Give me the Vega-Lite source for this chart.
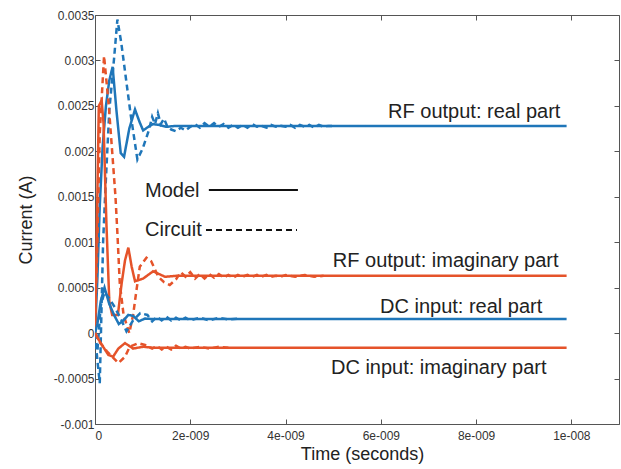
{
  "$schema": "https://vega.github.io/schema/vega-lite/v6.json",
  "width": 524,
  "height": 409,
  "autosize": {"type": "none"},
  "padding": {"left": 95, "top": 15, "right": 2, "bottom": 45},
  "background": "white",
  "config": {
    "view": {"stroke": "#555", "strokeWidth": 1},
    "axis": {
      "labelFont": "Liberation Sans",
      "labelFontSize": 12,
      "labelColor": "#333",
      "titleFont": "Liberation Sans",
      "titleFontSize": 18,
      "titleFontWeight": "normal",
      "titleColor": "#222",
      "tickColor": "#555",
      "tickWidth": 1,
      "domain": false,
      "grid": false
    },
    "text": {"font": "Liberation Sans", "fontSize": 20, "fill": "#222"}
  },
  "datasets": {
    "series": [
      {"series":"RFr_M","col":"blue","kind":"Model","t":0,"v":0},
      {"series":"RFr_M","col":"blue","kind":"Model","t":0.05e-9,"v":0.6e-3},
      {"series":"RFr_M","col":"blue","kind":"Model","t":0.1e-9,"v":1.4e-3},
      {"series":"RFr_M","col":"blue","kind":"Model","t":0.16e-9,"v":2.05e-3},
      {"series":"RFr_M","col":"blue","kind":"Model","t":0.23e-9,"v":2.5e-3},
      {"series":"RFr_M","col":"blue","kind":"Model","t":0.3e-9,"v":2.78e-3},
      {"series":"RFr_M","col":"blue","kind":"Model","t":0.37e-9,"v":2.93e-3},
      {"series":"RFr_M","col":"blue","kind":"Model","t":0.45e-9,"v":2.45e-3},
      {"series":"RFr_M","col":"blue","kind":"Model","t":0.54e-9,"v":1.98e-3},
      {"series":"RFr_M","col":"blue","kind":"Model","t":0.61e-9,"v":1.94e-3},
      {"series":"RFr_M","col":"blue","kind":"Model","t":0.72e-9,"v":2.25e-3},
      {"series":"RFr_M","col":"blue","kind":"Model","t":0.84e-9,"v":2.46e-3},
      {"series":"RFr_M","col":"blue","kind":"Model","t":0.93e-9,"v":2.33e-3},
      {"series":"RFr_M","col":"blue","kind":"Model","t":1.01e-9,"v":2.23e-3},
      {"series":"RFr_M","col":"blue","kind":"Model","t":1.12e-9,"v":2.27e-3},
      {"series":"RFr_M","col":"blue","kind":"Model","t":1.22e-9,"v":2.3e-3},
      {"series":"RFr_M","col":"blue","kind":"Model","t":1.35e-9,"v":2.29e-3},
      {"series":"RFr_M","col":"blue","kind":"Model","t":1.5e-9,"v":2.27e-3},
      {"series":"RFr_M","col":"blue","kind":"Model","t":1.7e-9,"v":2.28e-3},
      {"series":"RFr_M","col":"blue","kind":"Model","t":9.9e-9,"v":2.28e-3},

      {"series":"RFr_C","col":"blue","kind":"Circuit","t":0,"v":0},
      {"series":"RFr_C","col":"blue","kind":"Circuit","t":0.05e-9,"v":-0.3e-3},
      {"series":"RFr_C","col":"blue","kind":"Circuit","t":0.1e-9,"v":-0.55e-3},
      {"series":"RFr_C","col":"blue","kind":"Circuit","t":0.17e-9,"v":1.0e-3},
      {"series":"RFr_C","col":"blue","kind":"Circuit","t":0.22e-9,"v":1.6e-3},
      {"series":"RFr_C","col":"blue","kind":"Circuit","t":0.3e-9,"v":2.45e-3},
      {"series":"RFr_C","col":"blue","kind":"Circuit","t":0.4e-9,"v":3.02e-3},
      {"series":"RFr_C","col":"blue","kind":"Circuit","t":0.47e-9,"v":3.45e-3},
      {"series":"RFr_C","col":"blue","kind":"Circuit","t":0.55e-9,"v":3.2e-3},
      {"series":"RFr_C","col":"blue","kind":"Circuit","t":0.64e-9,"v":2.84e-3},
      {"series":"RFr_C","col":"blue","kind":"Circuit","t":0.75e-9,"v":2.4e-3},
      {"series":"RFr_C","col":"blue","kind":"Circuit","t":0.89e-9,"v":1.91e-3},
      {"series":"RFr_C","col":"blue","kind":"Circuit","t":1.0e-9,"v":2.03e-3},
      {"series":"RFr_C","col":"blue","kind":"Circuit","t":1.13e-9,"v":2.23e-3},
      {"series":"RFr_C","col":"blue","kind":"Circuit","t":1.2e-9,"v":2.38e-3},
      {"series":"RFr_C","col":"blue","kind":"Circuit","t":1.26e-9,"v":2.3e-3},
      {"series":"RFr_C","col":"blue","kind":"Circuit","t":1.32e-9,"v":2.42e-3},
      {"series":"RFr_C","col":"blue","kind":"Circuit","t":1.38e-9,"v":2.3e-3},
      {"series":"RFr_C","col":"blue","kind":"Circuit","t":1.45e-9,"v":2.36e-3},
      {"series":"RFr_C","col":"blue","kind":"Circuit","t":1.52e-9,"v":2.27e-3},
      {"series":"RFr_C","col":"blue","kind":"Circuit","t":1.6e-9,"v":2.24e-3},
      {"series":"RFr_C","col":"blue","kind":"Circuit","t":1.7e-9,"v":2.22e-3},
      {"series":"RFr_C","col":"blue","kind":"Circuit","t":1.8e-9,"v":2.26e-3},
      {"series":"RFr_C","col":"blue","kind":"Circuit","t":1.9e-9,"v":2.23e-3},
      {"series":"RFr_C","col":"blue","kind":"Circuit","t":2.0e-9,"v":2.27e-3},
      {"series":"RFr_C","col":"blue","kind":"Circuit","t":2.1e-9,"v":2.3e-3},
      {"series":"RFr_C","col":"blue","kind":"Circuit","t":2.2e-9,"v":2.26e-3},
      {"series":"RFr_C","col":"blue","kind":"Circuit","t":2.3e-9,"v":2.31e-3},
      {"series":"RFr_C","col":"blue","kind":"Circuit","t":2.4e-9,"v":2.27e-3},
      {"series":"RFr_C","col":"blue","kind":"Circuit","t":2.5e-9,"v":2.31e-3},
      {"series":"RFr_C","col":"blue","kind":"Circuit","t":2.6e-9,"v":2.27e-3},
      {"series":"RFr_C","col":"blue","kind":"Circuit","t":2.7e-9,"v":2.3e-3},
      {"series":"RFr_C","col":"blue","kind":"Circuit","t":2.8e-9,"v":2.26e-3},
      {"series":"RFr_C","col":"blue","kind":"Circuit","t":2.9e-9,"v":2.29e-3},
      {"series":"RFr_C","col":"blue","kind":"Circuit","t":3.0e-9,"v":2.26e-3},
      {"series":"RFr_C","col":"blue","kind":"Circuit","t":3.1e-9,"v":2.29e-3},
      {"series":"RFr_C","col":"blue","kind":"Circuit","t":3.2e-9,"v":2.26e-3},
      {"series":"RFr_C","col":"blue","kind":"Circuit","t":3.3e-9,"v":2.3e-3},
      {"series":"RFr_C","col":"blue","kind":"Circuit","t":3.4e-9,"v":2.27e-3},
      {"series":"RFr_C","col":"blue","kind":"Circuit","t":3.5e-9,"v":2.28e-3},
      {"series":"RFr_C","col":"blue","kind":"Circuit","t":3.6e-9,"v":2.26e-3},
      {"series":"RFr_C","col":"blue","kind":"Circuit","t":3.7e-9,"v":2.29e-3},
      {"series":"RFr_C","col":"blue","kind":"Circuit","t":3.8e-9,"v":2.27e-3},
      {"series":"RFr_C","col":"blue","kind":"Circuit","t":3.9e-9,"v":2.28e-3},
      {"series":"RFr_C","col":"blue","kind":"Circuit","t":4.0e-9,"v":2.27e-3},
      {"series":"RFr_C","col":"blue","kind":"Circuit","t":4.1e-9,"v":2.29e-3},
      {"series":"RFr_C","col":"blue","kind":"Circuit","t":4.2e-9,"v":2.26e-3},
      {"series":"RFr_C","col":"blue","kind":"Circuit","t":4.3e-9,"v":2.29e-3},
      {"series":"RFr_C","col":"blue","kind":"Circuit","t":4.4e-9,"v":2.27e-3},
      {"series":"RFr_C","col":"blue","kind":"Circuit","t":4.5e-9,"v":2.29e-3},
      {"series":"RFr_C","col":"blue","kind":"Circuit","t":4.6e-9,"v":2.26e-3},
      {"series":"RFr_C","col":"blue","kind":"Circuit","t":4.7e-9,"v":2.29e-3},
      {"series":"RFr_C","col":"blue","kind":"Circuit","t":4.8e-9,"v":2.27e-3},
      {"series":"RFr_C","col":"blue","kind":"Circuit","t":4.9e-9,"v":2.28e-3},
      {"series":"RFr_C","col":"blue","kind":"Circuit","t":5.0e-9,"v":2.28e-3},

      {"series":"RFi_M","col":"red","kind":"Model","t":0,"v":0},
      {"series":"RFi_M","col":"red","kind":"Model","t":0.04e-9,"v":1.2e-3},
      {"series":"RFi_M","col":"red","kind":"Model","t":0.08e-9,"v":2.5e-3},
      {"series":"RFi_M","col":"red","kind":"Model","t":0.14e-9,"v":2.56e-3},
      {"series":"RFi_M","col":"red","kind":"Model","t":0.18e-9,"v":2.3e-3},
      {"series":"RFi_M","col":"red","kind":"Model","t":0.24e-9,"v":1.2e-3},
      {"series":"RFi_M","col":"red","kind":"Model","t":0.3e-9,"v":0.35e-3},
      {"series":"RFi_M","col":"red","kind":"Model","t":0.36e-9,"v":0.2e-3},
      {"series":"RFi_M","col":"red","kind":"Model","t":0.48e-9,"v":0.2e-3},
      {"series":"RFi_M","col":"red","kind":"Model","t":0.56e-9,"v":0.55e-3},
      {"series":"RFi_M","col":"red","kind":"Model","t":0.63e-9,"v":0.8e-3},
      {"series":"RFi_M","col":"red","kind":"Model","t":0.7e-9,"v":0.94e-3},
      {"series":"RFi_M","col":"red","kind":"Model","t":0.77e-9,"v":0.73e-3},
      {"series":"RFi_M","col":"red","kind":"Model","t":0.84e-9,"v":0.57e-3},
      {"series":"RFi_M","col":"red","kind":"Model","t":1.01e-9,"v":0.6e-3},
      {"series":"RFi_M","col":"red","kind":"Model","t":1.22e-9,"v":0.68e-3},
      {"series":"RFi_M","col":"red","kind":"Model","t":1.47e-9,"v":0.62e-3},
      {"series":"RFi_M","col":"red","kind":"Model","t":1.7e-9,"v":0.63e-3},
      {"series":"RFi_M","col":"red","kind":"Model","t":9.9e-9,"v":0.63e-3},

      {"series":"RFi_C","col":"red","kind":"Circuit","t":0,"v":0},
      {"series":"RFi_C","col":"red","kind":"Circuit","t":0.05e-9,"v":1.0e-3},
      {"series":"RFi_C","col":"red","kind":"Circuit","t":0.1e-9,"v":2.2e-3},
      {"series":"RFi_C","col":"red","kind":"Circuit","t":0.19e-9,"v":3.05e-3},
      {"series":"RFi_C","col":"red","kind":"Circuit","t":0.29e-9,"v":2.5e-3},
      {"series":"RFi_C","col":"red","kind":"Circuit","t":0.36e-9,"v":2.0e-3},
      {"series":"RFi_C","col":"red","kind":"Circuit","t":0.43e-9,"v":1.5e-3},
      {"series":"RFi_C","col":"red","kind":"Circuit","t":0.47e-9,"v":1.1e-3},
      {"series":"RFi_C","col":"red","kind":"Circuit","t":0.52e-9,"v":0.55e-3},
      {"series":"RFi_C","col":"red","kind":"Circuit","t":0.6e-9,"v":0.2e-3},
      {"series":"RFi_C","col":"red","kind":"Circuit","t":0.72e-9,"v":0.0},
      {"series":"RFi_C","col":"red","kind":"Circuit","t":0.8e-9,"v":0.2e-3},
      {"series":"RFi_C","col":"red","kind":"Circuit","t":0.87e-9,"v":0.47e-3},
      {"series":"RFi_C","col":"red","kind":"Circuit","t":0.94e-9,"v":0.73e-3},
      {"series":"RFi_C","col":"red","kind":"Circuit","t":1.08e-9,"v":0.83e-3},
      {"series":"RFi_C","col":"red","kind":"Circuit","t":1.18e-9,"v":0.79e-3},
      {"series":"RFi_C","col":"red","kind":"Circuit","t":1.33e-9,"v":0.62e-3},
      {"series":"RFi_C","col":"red","kind":"Circuit","t":1.45e-9,"v":0.56e-3},
      {"series":"RFi_C","col":"red","kind":"Circuit","t":1.57e-9,"v":0.53e-3},
      {"series":"RFi_C","col":"red","kind":"Circuit","t":1.7e-9,"v":0.59e-3},
      {"series":"RFi_C","col":"red","kind":"Circuit","t":1.8e-9,"v":0.67e-3},
      {"series":"RFi_C","col":"red","kind":"Circuit","t":1.9e-9,"v":0.62e-3},
      {"series":"RFi_C","col":"red","kind":"Circuit","t":2.0e-9,"v":0.67e-3},
      {"series":"RFi_C","col":"red","kind":"Circuit","t":2.1e-9,"v":0.6e-3},
      {"series":"RFi_C","col":"red","kind":"Circuit","t":2.2e-9,"v":0.65e-3},
      {"series":"RFi_C","col":"red","kind":"Circuit","t":2.3e-9,"v":0.6e-3},
      {"series":"RFi_C","col":"red","kind":"Circuit","t":2.4e-9,"v":0.65e-3},
      {"series":"RFi_C","col":"red","kind":"Circuit","t":2.5e-9,"v":0.61e-3},
      {"series":"RFi_C","col":"red","kind":"Circuit","t":2.6e-9,"v":0.65e-3},
      {"series":"RFi_C","col":"red","kind":"Circuit","t":2.7e-9,"v":0.61e-3},
      {"series":"RFi_C","col":"red","kind":"Circuit","t":2.8e-9,"v":0.64e-3},
      {"series":"RFi_C","col":"red","kind":"Circuit","t":2.9e-9,"v":0.61e-3},
      {"series":"RFi_C","col":"red","kind":"Circuit","t":3.0e-9,"v":0.64e-3},
      {"series":"RFi_C","col":"red","kind":"Circuit","t":3.1e-9,"v":0.62e-3},
      {"series":"RFi_C","col":"red","kind":"Circuit","t":3.2e-9,"v":0.64e-3},
      {"series":"RFi_C","col":"red","kind":"Circuit","t":3.3e-9,"v":0.62e-3},
      {"series":"RFi_C","col":"red","kind":"Circuit","t":3.4e-9,"v":0.64e-3},
      {"series":"RFi_C","col":"red","kind":"Circuit","t":3.5e-9,"v":0.62e-3},
      {"series":"RFi_C","col":"red","kind":"Circuit","t":3.6e-9,"v":0.64e-3},
      {"series":"RFi_C","col":"red","kind":"Circuit","t":3.7e-9,"v":0.62e-3},
      {"series":"RFi_C","col":"red","kind":"Circuit","t":3.8e-9,"v":0.63e-3},
      {"series":"RFi_C","col":"red","kind":"Circuit","t":3.9e-9,"v":0.62e-3},
      {"series":"RFi_C","col":"red","kind":"Circuit","t":4.0e-9,"v":0.64e-3},
      {"series":"RFi_C","col":"red","kind":"Circuit","t":4.2e-9,"v":0.62e-3},
      {"series":"RFi_C","col":"red","kind":"Circuit","t":4.4e-9,"v":0.64e-3},
      {"series":"RFi_C","col":"red","kind":"Circuit","t":4.6e-9,"v":0.62e-3},
      {"series":"RFi_C","col":"red","kind":"Circuit","t":4.8e-9,"v":0.63e-3},

      {"series":"DCr_M","col":"blue","kind":"Model","t":0,"v":0},
      {"series":"DCr_M","col":"blue","kind":"Model","t":0.05e-9,"v":0.1e-3},
      {"series":"DCr_M","col":"blue","kind":"Model","t":0.12e-9,"v":0.35e-3},
      {"series":"DCr_M","col":"blue","kind":"Model","t":0.2e-9,"v":0.5e-3},
      {"series":"DCr_M","col":"blue","kind":"Model","t":0.3e-9,"v":0.32e-3},
      {"series":"DCr_M","col":"blue","kind":"Model","t":0.4e-9,"v":0.2e-3},
      {"series":"DCr_M","col":"blue","kind":"Model","t":0.5e-9,"v":0.1e-3},
      {"series":"DCr_M","col":"blue","kind":"Model","t":0.6e-9,"v":0.14e-3},
      {"series":"DCr_M","col":"blue","kind":"Model","t":0.7e-9,"v":0.2e-3},
      {"series":"DCr_M","col":"blue","kind":"Model","t":0.8e-9,"v":0.19e-3},
      {"series":"DCr_M","col":"blue","kind":"Model","t":0.92e-9,"v":0.13e-3},
      {"series":"DCr_M","col":"blue","kind":"Model","t":1.05e-9,"v":0.16e-3},
      {"series":"DCr_M","col":"blue","kind":"Model","t":1.2e-9,"v":0.155e-3},
      {"series":"DCr_M","col":"blue","kind":"Model","t":9.9e-9,"v":0.155e-3},

      {"series":"DCr_C","col":"blue","kind":"Circuit","t":0,"v":0},
      {"series":"DCr_C","col":"blue","kind":"Circuit","t":0.05e-9,"v":-0.2e-3},
      {"series":"DCr_C","col":"blue","kind":"Circuit","t":0.12e-9,"v":0.3e-3},
      {"series":"DCr_C","col":"blue","kind":"Circuit","t":0.2e-9,"v":0.45e-3},
      {"series":"DCr_C","col":"blue","kind":"Circuit","t":0.3e-9,"v":0.38e-3},
      {"series":"DCr_C","col":"blue","kind":"Circuit","t":0.42e-9,"v":0.28e-3},
      {"series":"DCr_C","col":"blue","kind":"Circuit","t":0.55e-9,"v":0.15e-3},
      {"series":"DCr_C","col":"blue","kind":"Circuit","t":0.66e-9,"v":0.02e-3},
      {"series":"DCr_C","col":"blue","kind":"Circuit","t":0.8e-9,"v":0.14e-3},
      {"series":"DCr_C","col":"blue","kind":"Circuit","t":0.95e-9,"v":0.22e-3},
      {"series":"DCr_C","col":"blue","kind":"Circuit","t":1.1e-9,"v":0.2e-3},
      {"series":"DCr_C","col":"blue","kind":"Circuit","t":1.2e-9,"v":0.13e-3},
      {"series":"DCr_C","col":"blue","kind":"Circuit","t":1.3e-9,"v":0.18e-3},
      {"series":"DCr_C","col":"blue","kind":"Circuit","t":1.4e-9,"v":0.14e-3},
      {"series":"DCr_C","col":"blue","kind":"Circuit","t":1.5e-9,"v":0.18e-3},
      {"series":"DCr_C","col":"blue","kind":"Circuit","t":1.6e-9,"v":0.14e-3},
      {"series":"DCr_C","col":"blue","kind":"Circuit","t":1.7e-9,"v":0.17e-3},
      {"series":"DCr_C","col":"blue","kind":"Circuit","t":1.8e-9,"v":0.14e-3},
      {"series":"DCr_C","col":"blue","kind":"Circuit","t":1.9e-9,"v":0.17e-3},
      {"series":"DCr_C","col":"blue","kind":"Circuit","t":2.0e-9,"v":0.14e-3},
      {"series":"DCr_C","col":"blue","kind":"Circuit","t":2.2e-9,"v":0.17e-3},
      {"series":"DCr_C","col":"blue","kind":"Circuit","t":2.4e-9,"v":0.14e-3},
      {"series":"DCr_C","col":"blue","kind":"Circuit","t":2.6e-9,"v":0.17e-3},
      {"series":"DCr_C","col":"blue","kind":"Circuit","t":2.8e-9,"v":0.15e-3},
      {"series":"DCr_C","col":"blue","kind":"Circuit","t":3.0e-9,"v":0.16e-3},

      {"series":"DCi_M","col":"red","kind":"Model","t":0,"v":0},
      {"series":"DCi_M","col":"red","kind":"Model","t":0.05e-9,"v":-0.05e-3},
      {"series":"DCi_M","col":"red","kind":"Model","t":0.17e-9,"v":-0.15e-3},
      {"series":"DCi_M","col":"red","kind":"Model","t":0.28e-9,"v":-0.24e-3},
      {"series":"DCi_M","col":"red","kind":"Model","t":0.38e-9,"v":-0.26e-3},
      {"series":"DCi_M","col":"red","kind":"Model","t":0.49e-9,"v":-0.17e-3},
      {"series":"DCi_M","col":"red","kind":"Model","t":0.63e-9,"v":-0.11e-3},
      {"series":"DCi_M","col":"red","kind":"Model","t":0.8e-9,"v":-0.17e-3},
      {"series":"DCi_M","col":"red","kind":"Model","t":1.01e-9,"v":-0.15e-3},
      {"series":"DCi_M","col":"red","kind":"Model","t":1.2e-9,"v":-0.16e-3},
      {"series":"DCi_M","col":"red","kind":"Model","t":9.9e-9,"v":-0.16e-3},

      {"series":"DCi_C","col":"red","kind":"Circuit","t":0,"v":0},
      {"series":"DCi_C","col":"red","kind":"Circuit","t":0.1e-9,"v":-0.1e-3},
      {"series":"DCi_C","col":"red","kind":"Circuit","t":0.25e-9,"v":-0.2e-3},
      {"series":"DCi_C","col":"red","kind":"Circuit","t":0.4e-9,"v":-0.28e-3},
      {"series":"DCi_C","col":"red","kind":"Circuit","t":0.49e-9,"v":-0.33e-3},
      {"series":"DCi_C","col":"red","kind":"Circuit","t":0.63e-9,"v":-0.26e-3},
      {"series":"DCi_C","col":"red","kind":"Circuit","t":0.73e-9,"v":-0.15e-3},
      {"series":"DCi_C","col":"red","kind":"Circuit","t":0.91e-9,"v":-0.11e-3},
      {"series":"DCi_C","col":"red","kind":"Circuit","t":1.05e-9,"v":-0.13e-3},
      {"series":"DCi_C","col":"red","kind":"Circuit","t":1.2e-9,"v":-0.17e-3},
      {"series":"DCi_C","col":"red","kind":"Circuit","t":1.3e-9,"v":-0.14e-3},
      {"series":"DCi_C","col":"red","kind":"Circuit","t":1.4e-9,"v":-0.18e-3},
      {"series":"DCi_C","col":"red","kind":"Circuit","t":1.5e-9,"v":-0.15e-3},
      {"series":"DCi_C","col":"red","kind":"Circuit","t":1.6e-9,"v":-0.18e-3},
      {"series":"DCi_C","col":"red","kind":"Circuit","t":1.7e-9,"v":-0.14e-3},
      {"series":"DCi_C","col":"red","kind":"Circuit","t":1.8e-9,"v":-0.17e-3},
      {"series":"DCi_C","col":"red","kind":"Circuit","t":1.9e-9,"v":-0.15e-3},
      {"series":"DCi_C","col":"red","kind":"Circuit","t":2.0e-9,"v":-0.17e-3},
      {"series":"DCi_C","col":"red","kind":"Circuit","t":2.2e-9,"v":-0.15e-3},
      {"series":"DCi_C","col":"red","kind":"Circuit","t":2.4e-9,"v":-0.17e-3},
      {"series":"DCi_C","col":"red","kind":"Circuit","t":2.6e-9,"v":-0.15e-3},
      {"series":"DCi_C","col":"red","kind":"Circuit","t":2.8e-9,"v":-0.16e-3}
    ],
    "legend": [
      {"kind":"Model","t1":2.39e-9,"t2":4.26e-9,"v":1.575e-3},
      {"kind":"Circuit","t1":2.33e-9,"t2":4.24e-9,"v":1.135e-3}
    ],
    "legendText": [
      {"label":"Model","t":1.05e-9,"v":1.494e-3},
      {"label":"Circuit","t":1.05e-9,"v":1.069e-3}
    ],
    "annotations": [
      {"label":"RF output: real part","t":9.77e-9,"v":2.364e-3},
      {"label":"RF output: imaginary part","t":9.73e-9,"v":0.724e-3},
      {"label":"DC input: real part","t":9.39e-9,"v":0.218e-3},
      {"label":"DC input: imaginary part","t":9.48e-9,"v":-0.449e-3}
    ]
  },
  "layer": [
    {
      "data": {"name": "series"},
      "mark": {"type": "line", "strokeWidth": 2.5, "clip": true},
      "encoding": {
        "x": {
          "field": "t", "type": "quantitative",
          "scale": {"domain": [0, 1.1e-8], "nice": false, "zero": false},
          "axis": {
            "orient": "bottom",
            "values": [0, 2e-9, 4e-9, 6e-9, 8e-9, 1e-8],
            "labelExpr": "datum.value == 0 ? '0' : (round(datum.value * 1e9) >= 10 ? round(datum.value * 1e8) + 'e-008' : round(datum.value * 1e9) + 'e-009')",
            "title": "Time (seconds)",
            "tickSize": -5,
            "labelPadding": 11,
            "titlePadding": 4,
            "titleX": 267
          }
        },
        "y": {
          "field": "v", "type": "quantitative",
          "scale": {"domain": [-0.001, 0.0035], "nice": false, "zero": false},
          "axis": {
            "orient": "left",
            "values": [-0.001, -0.0005, 0, 0.0005, 0.001, 0.0015, 0.002, 0.0025, 0.003, 0.0035],
            "labelExpr": "replace(format(datum.value, '.4~f'), '\u2212', '-')",
            "title": "Current (A)",
            "tickSize": -5,
            "labelPadding": 6,
            "titleX": -60
          }
        },
        "color": {
          "field": "col", "type": "nominal",
          "scale": {"domain": ["blue", "red"], "range": ["#1f76b9", "#e5532a"]},
          "legend": null
        },
        "strokeDash": {
          "field": "kind", "type": "nominal",
          "scale": {"domain": ["Model", "Circuit"], "range": [[1, 0], [6, 4]]},
          "legend": null
        },
        "detail": {"field": "series"}
      }
    },
    {
      "data": {"name": "legend"},
      "mark": {"type": "rule", "color": "#111", "strokeWidth": 2},
      "encoding": {
        "x": {
          "field": "t1", "type": "quantitative",
          "scale": {"domain": [0, 1.1e-8], "nice": false, "zero": false},
          "axis": {
            "orient": "top",
            "values": [0, 2e-9, 4e-9, 6e-9, 8e-9, 1e-8],
            "labels": false, "title": null, "tickSize": -5
          }
        },
        "x2": {"field": "t2"},
        "y": {
          "field": "v", "type": "quantitative",
          "scale": {"domain": [-0.001, 0.0035], "nice": false, "zero": false},
          "axis": {
            "orient": "right",
            "values": [-0.001, -0.0005, 0, 0.0005, 0.001, 0.0015, 0.002, 0.0025, 0.003, 0.0035],
            "labels": false, "title": null, "tickSize": -5
          }
        },
        "strokeDash": {
          "field": "kind", "type": "nominal",
          "scale": {"domain": ["Model", "Circuit"], "range": [[1, 0], [6, 5]]},
          "legend": null
        }
      }
    },
    {
      "data": {"name": "legendText"},
      "mark": {"type": "text", "align": "left", "baseline": "alphabetic"},
      "encoding": {
        "x": {"field": "t", "type": "quantitative", "axis": null},
        "y": {"field": "v", "type": "quantitative", "axis": null},
        "text": {"field": "label"}
      }
    },
    {
      "data": {"name": "annotations"},
      "mark": {"type": "text", "align": "right", "baseline": "alphabetic"},
      "encoding": {
        "x": {"field": "t", "type": "quantitative", "axis": null},
        "y": {"field": "v", "type": "quantitative", "axis": null},
        "text": {"field": "label"}
      }
    }
  ],
  "resolve": {"axis": {"x": "independent", "y": "independent"}}
}
